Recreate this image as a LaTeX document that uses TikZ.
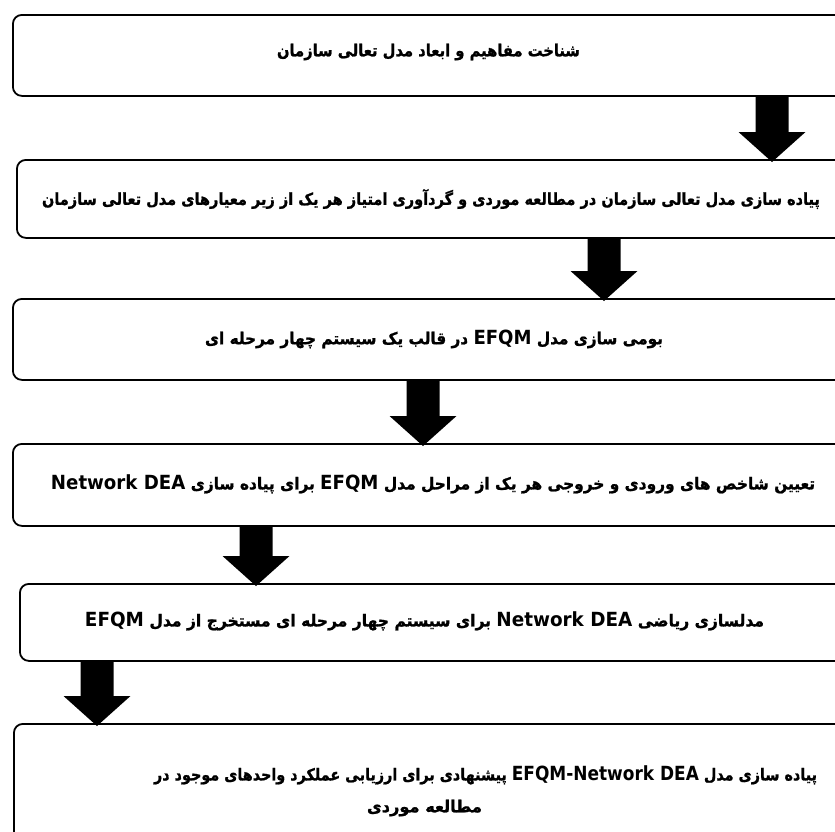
\documentclass[tikz,border=0pt]{standalone}
\usepackage{fontspec}
\usepackage{graphicx}
\usetikzlibrary{calc}
\TeXXeTstate=1
\newfontfamily\fafont[Script=Arabic, BoldFeatures={FakeBold=1.2}]{DejaVu Sans}
\newfontfamily\latfont{DejaVu Sans}
\newcommand{\lt}[1]{\beginL{\latfont\bfseries\fontsize{19.5}{21}\selectfont #1}\endL}
\newcommand{\fitw}[2]{\resizebox{#1}{\height}{#2}}
\tikzset{
  stagebox/.style={draw=black, line width=1.8pt, rounded corners=9pt, inner sep=0pt},
  txt/.style={font=\fafont\bfseries\fontsize{16.5}{19}\selectfont, inner sep=0pt, text=black},
  blockarrow/.style={to path={
    let \p1=(\tikztostart), \p2=(\tikztotarget) in
    (\x1-16.5,\y1) -- (\x1-16.5,\y2+30) -- (\x1-33.5,\y2+30) -- (\x1,\y2)
    -- (\x1+33.5,\y2+30) -- (\x1+16.5,\y2+30) -- (\x1+16.5,\y1) -- cycle}}
}
\begin{document}
\begin{tikzpicture}[x=1pt,y=-1pt]
\useasboundingbox (0,0) rectangle (835,831);
\clip (0,0) rectangle (835,831);
% boxes
\node[stagebox, minimum width=833pt, minimum height=81pt, anchor=north west] (b1) at (12,14) {};
\node[stagebox, minimum width=829pt, minimum height=78pt, anchor=north west] (b2) at (16,159) {};
\node[stagebox, minimum width=833pt, minimum height=81pt, anchor=north west] (b3) at (12,298) {};
\node[stagebox, minimum width=833pt, minimum height=82pt, anchor=north west] (b4) at (12,443) {};
\node[stagebox, minimum width=826pt, minimum height=77pt, anchor=north west] (b5) at (19,583) {};
\node[stagebox, minimum width=832pt, minimum height=125pt, anchor=north west] (b6) at (13,723) {};
% texts
\node[txt] (t1) at (428.5,52) {\fitw{303pt}{\beginR شناخت مفاهیم و  ابعاد مدل تعالی سازمان\endR}};
\node[txt] (t2) at (431,199) {\fitw{778pt}{\beginR پیاده سازی مدل تعالی سازمان در مطالعه موردی و گردآوری امتیاز هر یک از زیر معیارهای مدل تعالی سازمان\endR}};
\node[txt] (t3) at (434,339) {\fitw{458pt}{\beginR بومی سازی مدل \lt{EFQM} در قالب یک سیستم چهار مرحله ای\endR}};
\node[txt] (t4) at (433,484) {\fitw{764pt}{\beginR تعیین شاخص های ورودی و خروجی هر یک از مراحل مدل \lt{EFQM} برای پیاده سازی \lt{Network DEA}\endR}};
\node[txt] (t5) at (424.5,621) {\fitw{679pt}{\beginR مدلسازی ریاضی \lt{Network DEA} برای سیستم چهار مرحله ای مستخرج از مدل  \lt{EFQM}\endR}};
\node[txt] (t6a) at (485.5,775) {\fitw{663pt}{\beginR پیاده سازی مدل \lt{EFQM-Network DEA}  پیشنهادی برای ارزیابی عملکرد واحدهای موجود در\endR}};
\node[txt] (t6b) at (424.5,808) {\fitw{115pt}{\beginR مطالعه موردی\endR}};
% arrows
\coordinate (x1) at (772,0);
\coordinate (x2) at (604,0);
\coordinate (x3) at (423,0);
\coordinate (x4) at (256,0);
\coordinate (x5) at (97,0);
\fill[black] (b1.south -| x1) to[blockarrow] ($(b2.north -| x1)+(0,3)$);
\fill[black] (b2.south -| x2) to[blockarrow] ($(b3.north -| x2)+(0,3)$);
\fill[black] (b3.south -| x3) to[blockarrow] ($(b4.north -| x3)+(0,3)$);
\fill[black] (b4.south -| x4) to[blockarrow] ($(b5.north -| x4)+(0,3)$);
\fill[black] (b5.south -| x5) to[blockarrow] ($(b6.north -| x5)+(0,3)$);
\end{tikzpicture}
\end{document}
